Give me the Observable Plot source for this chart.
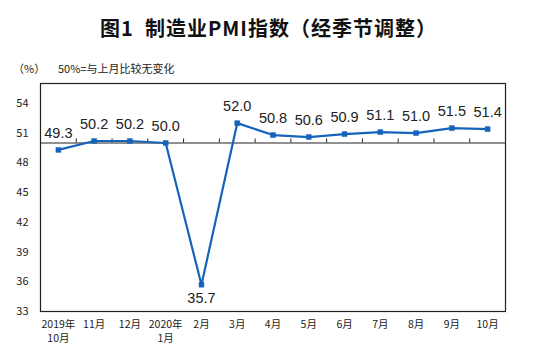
<!DOCTYPE html>
<html>
<head>
<meta charset="utf-8">
<script src="https://cdn.jsdelivr.net/npm/d3@7"></script>
<script src="https://cdn.jsdelivr.net/npm/@observablehq/plot@0.6"></script>
<style>
  body { margin: 0; background: #fff; font-family: "Noto Sans CJK SC", sans-serif; }
  #wrap { width: 537px; }
  #hdr { position: relative; height: 78px; }
  #title { position: absolute; left: 0; width: 537px; top: 17px; text-align: center; font-size: 20px; line-height: 22px; font-weight: bold; letter-spacing: 1px; color: #111; font-family: "Noto Sans CJK SC", sans-serif; }
  #unit { position: absolute; left: 13px; top: 62px; font-size: 11px; line-height: 12px; color: #222; }
  #note { position: absolute; left: 58px; top: 62px; font-size: 11px; line-height: 12px; color: #222; }
  svg { display: block; }
</style>
</head>
<body>
<div id="wrap">
  <div id="hdr">
    <div id="title">图1&nbsp;&nbsp;制造业PMI指数（经季节调整）</div>
    <div id="unit">（%）</div>
    <div id="note">50%=与上月比较无变化</div>
  </div>
  <div id="chart"></div>
</div>
<script>
const months = ["2019年\n10月", "11月", "12月", "2020年\n1月", "2月", "3月", "4月", "5月", "6月", "7月", "8月", "9月", "10月"];
const pmi = [49.3, 50.2, 50.2, 50.0, 35.7, 52.0, 50.8, 50.6, 50.9, 51.1, 51.0, 51.5, 51.4];
const yTicks = [33, 36, 39, 42, 45, 48, 51, 54];
const baseline = 50;

const data = pmi.map((v, i) => ({i, v, m: months[i]}));
const bounds = months.slice(1).map((_, i) => i + 0.5);
const blue = "#1763bb";
const low = d => d.v < 40;

const chart = Plot.plot({
  width: 537,
  height: 282,
  marginLeft: 40,
  marginRight: 32,
  marginTop: 5,
  marginBottom: 49,
  x: {type: "linear", domain: [-0.5, months.length - 0.5], axis: null},
  y: {domain: [33, 56], axis: null},
  style: {fontFamily: "Liberation Sans, Arial, sans-serif", background: "#fff"},
  marks: [
    Plot.frame({stroke: "#222", strokeWidth: 1.2}),
    Plot.ruleY([baseline], {stroke: "#222", strokeWidth: 1.2}),
    Plot.ruleX(bounds, {x: d => d, y1: baseline, y2: baseline + 0.4, stroke: "#222", strokeWidth: 1}),
    Plot.text(yTicks, {x: -0.5, y: d => d, text: d => String(d), textAnchor: "end", dx: -12, fontSize: 11, fill: "#222", fontFamily: "Noto Sans CJK SC, sans-serif"}),
    Plot.text(data, {x: "i", text: "m", frameAnchor: "bottom", lineAnchor: "top", dy: 7, fontSize: 10.5, lineHeight: 1.33, fill: "#222", fontFamily: "Noto Sans CJK SC, sans-serif"}),
    Plot.line(data, {x: "i", y: "v", stroke: blue, strokeWidth: 2.2}),
    Plot.dot(data, {x: "i", y: "v", symbol: "square", r: 2.8, fill: blue, stroke: blue, strokeWidth: 0.5}),
    Plot.text(data, {filter: d => !low(d), x: "i", y: "v", text: d => d.v.toFixed(1), dy: -17, fontSize: 14.5, fill: "#222"}),
    Plot.text(data, {filter: low, x: "i", y: "v", text: d => d.v.toFixed(1), dy: 14, fontSize: 14.5, fill: "#222"})
  ]
});
document.getElementById("chart").appendChild(chart);
</script>
</body>
</html>
